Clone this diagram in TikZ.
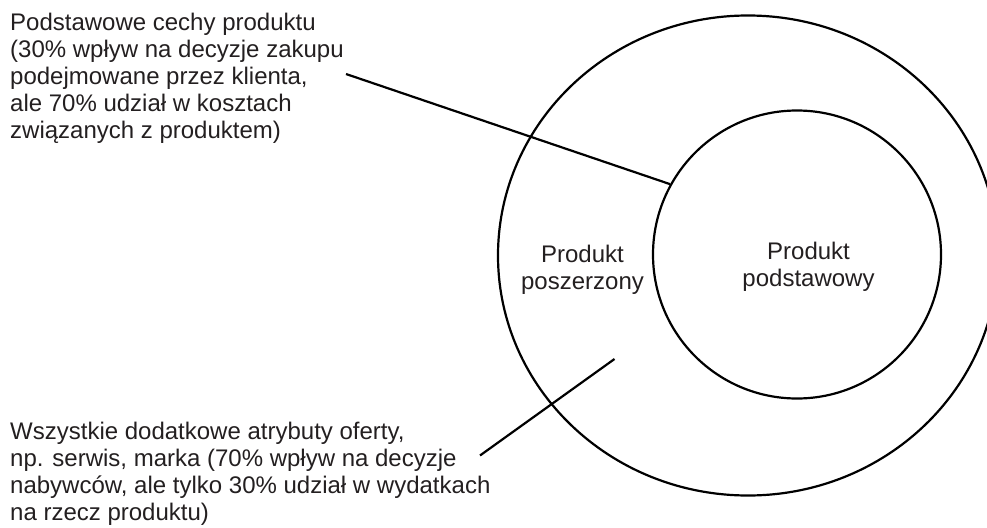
\documentclass[tikz,border=0pt]{standalone}
\usepackage{fontspec}
\setmainfont{Liberation Sans}
\usetikzlibrary{shapes.geometric}
\definecolor{ink}{RGB}{35,31,32}
\tikzset{
  ring/.style={draw=black, line width=2.2pt, inner sep=0pt, fill=none},
  lead/.style={draw=black, line width=2.2pt},
  note/.style={text=ink, align=left, inner sep=0pt,
    font=\fontsize{24pt}{27pt}\selectfont},
  label/.style={text=ink, align=center, inner sep=0pt,
    font=\fontsize{24pt}{27pt}\selectfont}
}
\begin{document}
\begin{tikzpicture}[x=1pt, y=-1pt]
  \useasboundingbox (0,0) rectangle (987,527);
  \clip (0,0) rectangle (987,527);

  % augmented product (outer ring) and core product (inner circle)
  \node[ring, ellipse, minimum width=500pt, minimum height=480pt] (outer) at (748,255.5) {};
  \node[ring, circle, minimum size=288pt] (core) at (797,254.5) {};

  % ring labels (anchored at the baseline of their last line)
  \node[label, anchor=base] (lblouter) at (582.5,289) {Produkt\\poszerzony};
  \node[label, anchor=base] (lblcore) at (808.5,286) {Produkt\\podstawowy};

  % explanatory notes (anchored at the baseline of their last line)
  \node[note, anchor=base west] (notecore) at (10,138)
    {Podstawowe cechy produktu\\(30\% wpływ na decyzje zakupu\\podejmowane przez klienta,\\ale 70\% udział w kosztach\\związanych z produktem)};
  \node[note, anchor=base west] (noteouter) at (10,520)
    {Wszystkie dodatkowe atrybuty oferty,\\np. serwis, marka (70\% wpływ na decyzje\\nabywców, ale tylko 30\% udział w wydatkach\\na rzecz produktu)};

  % leader lines
  \coordinate (leadA) at (346,74);
  \coordinate (leadB) at (480,455.5);
  \coordinate (leadBend) at (614.5,359);
  \draw[lead] (leadA) -- (core.151.6);
  \draw[lead] (leadB) -- (leadBend);
\end{tikzpicture}
\end{document}
